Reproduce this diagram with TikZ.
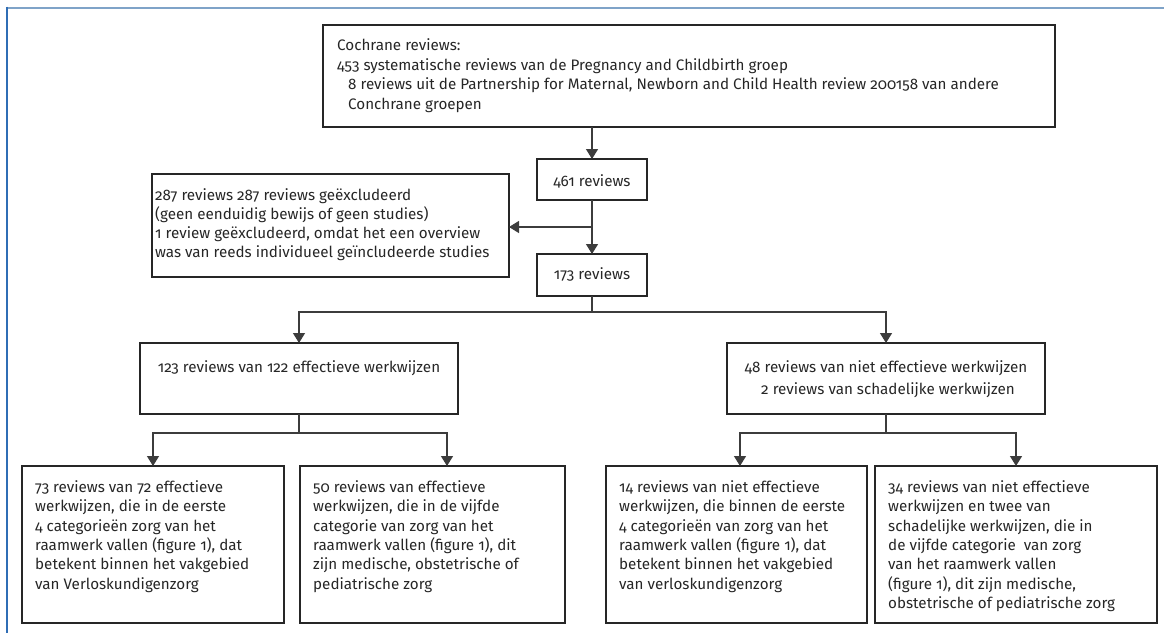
\documentclass[tikz,border=0pt]{standalone}
\usepackage{fontspec}
\setmainfont{Fira Sans}[Numbers=OldStyle]
\usetikzlibrary{arrows.meta,fit}
\definecolor{framelight}{HTML}{7FA3C8}
\definecolor{framedark}{HTML}{2F6DB5}
\definecolor{ink}{HTML}{262626}
\newcommand\fsTop{\fontsize{15.2}{19.6}\selectfont}
\newcommand\fsBox{\fontsize{15.2}{19.4}\selectfont}
\begin{document}
\begin{tikzpicture}[x=1pt,y=-1pt,
  box/.style={draw=ink, line width=1.4pt, inner sep=0pt, outer sep=0pt, fit={#1}},
  txt/.style={anchor=north west, inner sep=0pt, align=left, text=ink, font=\fsBox},
  ctxt/.style={anchor=base, inner sep=0pt, text=ink, font=\fsBox},
  link/.style={draw=ink!90, line width=1.3pt},
  arr/.style={link, -{Triangle[width=12pt,length=10pt]}}]
\useasboundingbox (0,0) rectangle (1164,633);

% frame lines
\draw[framelight, line width=2pt] (6,7.5) -- (1164,7.5);
\draw[framedark, line width=2pt] (6.5,6.5) -- (6.5,633);

% boxes
\node[box={(323,25) (1055,127)}] (top) {};
\node[box={(537,159) (647,200)}] (n461) {};
\node[box={(537,254) (647,296)}] (n173) {};
\node[box={(152,174) (509,277)}] (excl) {};
\node[box={(140,343) (458,414)}] (eff) {};
\node[box={(727,343) (1045,414)}] (neff) {};
\node[box={(22,466) (284,623)}] (bA) {};
\node[box={(300,466) (565,623)}] (bB) {};
\node[box={(606,466) (867,623)}] (bC) {};
\node[box={(875,466) (1157,623)}] (bD) {};

% texts
\node[txt, font=\fsTop] at (337,36.5) {\strut Cochrane reviews:\\
453 systematische reviews van de Pregnancy and Childbirth groep\\
\hspace*{11pt}8 reviews uit de Partnership for Maternal, Newborn and Child Health review 200158 van andere\\
\hspace*{11pt}Conchrane groepen};
\node[ctxt] at (n461.center |- 0,186.5) {461 reviews};
\node[ctxt] at (n173.center |- 0,279.5) {173 reviews};
\node[txt, font=\fontsize{15.2}{19}\selectfont] at (155,187) {\strut 287 reviews 287 reviews geëxcludeerd\\
(geen eenduidig bewijs of geen studies)\\
1 review geëxcludeerd, omdat het een overview\\
was van reeds individueel geïncludeerde studies};
\node[ctxt] at (eff.center |- 0,372.5) {123 reviews van 122 effectieve werkwijzen};
\node[txt, anchor=north, align=center, font=\fontsize{15.2}{21.5}\selectfont] at (neff.center |- 0,357.5) {\strut 48 reviews van niet effectieve werkwijzen\\
\ 2 reviews van schadelijke werkwijzen};
\node[txt] at (35,478.5) {\strut 73 reviews van 72 effectieve\\
werkwijzen, die in de eerste\\
4 categorieën zorg van het\\
raamwerk vallen (figure 1), dat\\
betekent binnen het vakgebied\\
van Verloskundigenzorg};
\node[txt] at (313,478.5) {\strut 50 reviews van effectieve\\
werkwijzen, die in de vijfde\\
categorie van zorg van het\\
raamwerk vallen (figure 1), dit\\
zijn medische, obstetrische of\\
pediatrische zorg};
\node[txt] at (619,478.5) {\strut 14 reviews van niet effectieve\\
werkwijzen, die binnen de eerste\\
4 categorieën van zorg van het\\
raamwerk vallen (figure 1), dat\\
betekent binnen het vakgebied\\
van verloskundigenzorg};
\node[txt] at (888,478.5) {\strut 34 reviews van niet effectieve\\
werkwijzen en twee van\\
schadelijke werkwijzen, die in\\
de vijfde categorie\ \ van zorg\\
van het raamwerk vallen\\
(figure 1), dit zijn medische,\\
obstetrische of pediatrische zorg};

% connectors
\draw[arr] (n461.north |- top.south) -- (n461.north);
\draw[arr] (n461.south) -- (n173.north);
\path (n461.south) ++(0,27) coordinate (j1);
\draw[arr] (j1) -- (excl.east |- j1);

\path (n173.south) ++(0,16) coordinate (j2);
\draw[link] (n173.south) -- (j2);
\draw[arr] (j2) -| (eff.north);
\draw[arr] (j2) -| (neff.north);

\path (eff.south) ++(0,19) coordinate (j3);
\coordinate (tB) at (447,466);
\draw[link] (eff.south) -- (j3);
\draw[arr] (j3) -| (bA.north);
\draw[arr] (j3) -| (tB);

\path (neff.south) ++(0,19) coordinate (j4);
\coordinate (tC) at (740,466);
\draw[link] (neff.south) -- (j4);
\draw[arr] (j4) -| (tC);
\draw[arr] (j4) -| (bD.north);
\end{tikzpicture}
\end{document}
